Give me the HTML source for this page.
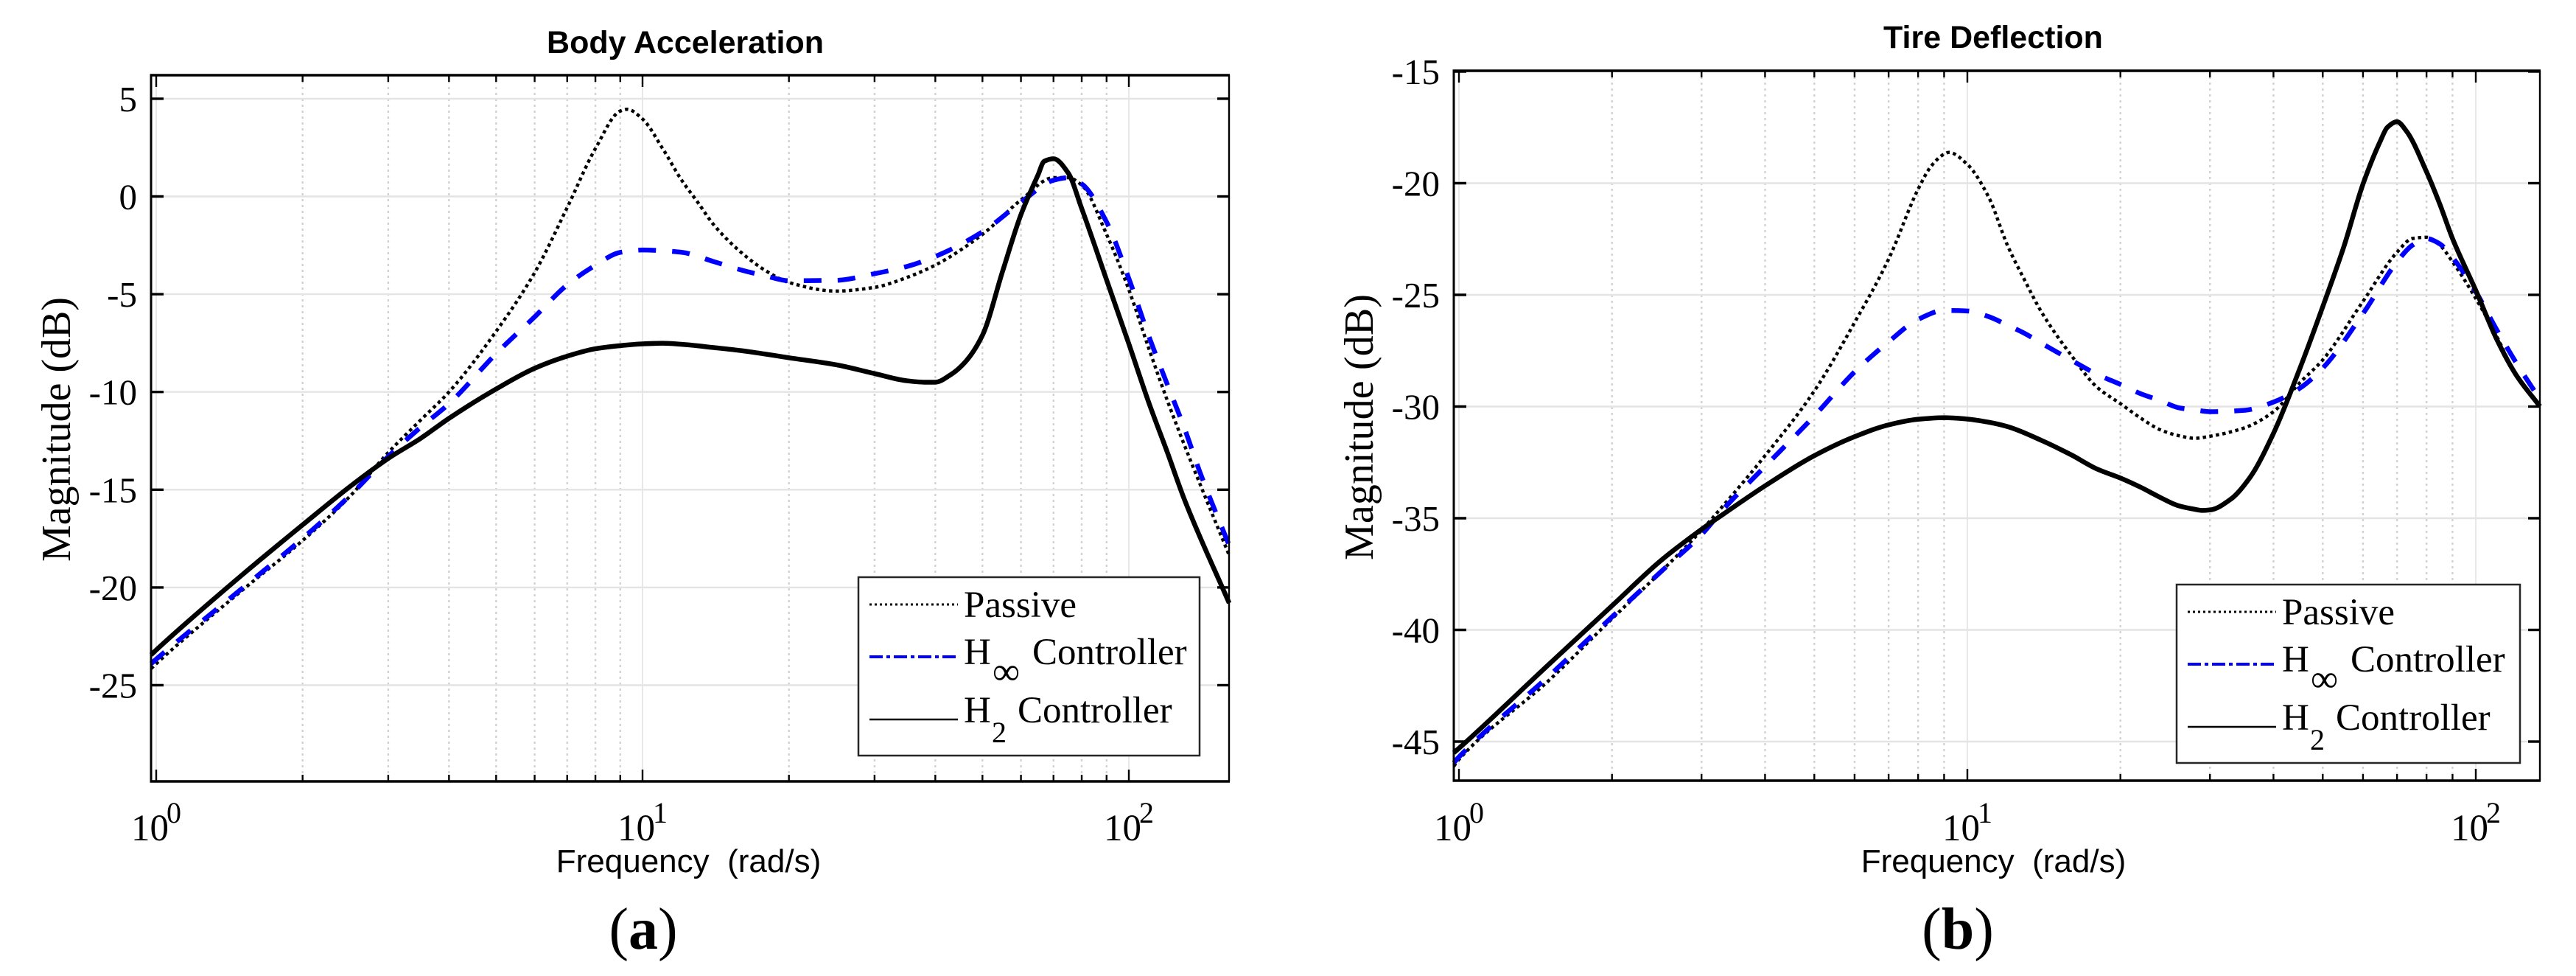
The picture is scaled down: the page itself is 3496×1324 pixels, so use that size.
<!DOCTYPE html>
<html lang="en">
<head>
<meta charset="utf-8">
<title>Body Acceleration and Tire Deflection Frequency Response</title>
<style>
html,body{margin:0;padding:0;background:#fff;width:3496px;height:1324px;overflow:hidden}
svg{display:block}
.serif{font-family:"Liberation Serif",serif;fill:#000}
.sans{font-family:"Liberation Sans",sans-serif;fill:#000}
</style>
</head>
<body>
<svg id="figure" xmlns="http://www.w3.org/2000/svg" width="3496" height="1324" viewBox="0 0 3496 1324">
  <rect x="0" y="0" width="3496" height="1324" fill="#fff"/>

  <g id="plotA"></g>
  <g id="plotB"></g>

  <text class="sans" x="930" y="72" font-size="43" font-weight="700" text-anchor="middle">Body Acceleration</text>
  <text class="sans" x="2705" y="65" font-size="43" font-weight="700" text-anchor="middle">Tire Deflection</text>

  <text class="serif" transform="translate(95,582.5) rotate(-90)" font-size="56" text-anchor="middle" textLength="359" lengthAdjust="spacing">Magnitude (dB)</text>
  <text class="serif" transform="translate(1863,579.5) rotate(-90)" font-size="56" text-anchor="middle" textLength="361" lengthAdjust="spacing">Magnitude (dB)</text>

  <text class="sans" x="934.5" y="1183" font-size="44" text-anchor="middle">Frequency&#160;&#160;(rad/s)</text>
  <text class="sans" x="2705.5" y="1183" font-size="44" text-anchor="middle">Frequency&#160;&#160;(rad/s)</text>

  <text class="serif" x="873" y="1287" font-size="80" text-anchor="middle">(<tspan font-weight="700">a</tspan>)</text>
  <text class="serif" x="2657" y="1287" font-size="80" text-anchor="middle">(<tspan font-weight="700">b</tspan>)</text>

  <g>
    <rect x="1165" y="783" width="463" height="242" fill="#fff" stroke="#262626" stroke-width="2.5"/>
    <line x1="1180" y1="820" x2="1300" y2="820" stroke="#000" stroke-width="3" stroke-dasharray="3 4"/>
    <text class="serif" x="1308" y="837" font-size="51">Passive</text>
    <line x1="1180" y1="891" x2="1300" y2="891" stroke="#0000ff" stroke-width="4" stroke-dasharray="18 5 5 5"/>
    <text class="serif" x="1308" y="901" font-size="51">H</text>
    <text class="serif" x="1347" y="928" font-size="52">∞</text>
    <text class="serif" x="1401" y="901" font-size="51">Controller</text>
    <line x1="1180" y1="976" x2="1300" y2="976" stroke="#000" stroke-width="2.5"/>
    <text class="serif" x="1308" y="980" font-size="51">H</text>
    <text class="serif" x="1346" y="1007" font-size="40">2</text>
    <text class="serif" x="1381" y="980" font-size="51">Controller</text>
  </g>

  <g>
    <rect x="2954" y="793" width="466" height="242" fill="#fff" stroke="#262626" stroke-width="2.5"/>
    <line x1="2969" y1="830" x2="3089" y2="830" stroke="#000" stroke-width="3" stroke-dasharray="3 4"/>
    <text class="serif" x="3097" y="847" font-size="51">Passive</text>
    <line x1="2969" y1="901" x2="3089" y2="901" stroke="#0000ff" stroke-width="4" stroke-dasharray="18 5 5 5"/>
    <text class="serif" x="3097" y="911" font-size="51">H</text>
    <text class="serif" x="3136" y="938" font-size="52">∞</text>
    <text class="serif" x="3190" y="911" font-size="51">Controller</text>
    <line x1="2969" y1="986" x2="3089" y2="986" stroke="#000" stroke-width="2.5"/>
    <text class="serif" x="3097" y="990" font-size="51">H</text>
    <text class="serif" x="3135" y="1017" font-size="40">2</text>
    <text class="serif" x="3170" y="990" font-size="51">Controller</text>
  </g>
</svg>

<script>
var xMajorTicks = [1, 10, 100];
var xExponents = ["0", "1", "2"];
var minorDecades = [1, 10];
var minorMultipliers = [2, 3, 4, 5, 6, 7, 8, 9];

var aYTicks = [5, 0, -5, -10, -15, -20, -25];
var bYTicks = [-15, -20, -25, -30, -35, -40, -45];

var aPassiveFreq = [0.976,1,1.5,2,2.5,3,3.5,4,5,6,7,8,9,9.3,10,11,12,13,14,16,18,20,25,30,35,40,50,60,70,75,80,90,100,110,120,130,140,160.8];
var aPassive = [-24.15,-23.9,-20.16,-17.6,-15.35,-13.1,-11.43,-10,-6.9,-3.9,-0.57,2.45,4.37,4.46,3.96,2.45,0.88,-0.31,-1.44,-2.89,-3.83,-4.4,-4.84,-4.65,-4.14,-3.51,-1.94,-0.18,0.96,0.96,0.58,-1.94,-4.77,-7.8,-10.44,-12.7,-14.7,-18.35];

var aHinfFreq = [0.976,1,1.5,2,2.5,3,3.5,4,5,6,7,8,9,10,12,14,16,18,20,25,30,35,40,50,60,70,75,80,90,100,110,120,130,140,160.8];
var aHinf = [-23.9,-23.67,-20.06,-17.49,-15.31,-13.3,-11.8,-10.6,-8.04,-6.16,-4.52,-3.52,-2.86,-2.74,-2.85,-3.33,-3.77,-4.08,-4.31,-4.29,-3.95,-3.58,-3.07,-1.81,-0.3,0.83,0.96,0.64,-1.31,-4.2,-7.17,-9.62,-11.83,-14.1,-17.85];

var aH2Freq = [0.976,1,1.5,2,2.5,3,3.5,4,5,6,7,8,9,10,11,12,14,16,20,25,30,35,38,40,43,46,50,55,60,65,67,70,75,80,90,100,110,120,130,160.8];
var aH2 = [-23.45,-23.2,-19.37,-16.8,-14.85,-13.4,-12.37,-11.35,-9.85,-8.79,-8.17,-7.79,-7.63,-7.54,-7.51,-7.56,-7.73,-7.89,-8.25,-8.61,-9.06,-9.43,-9.5,-9.5,-9.12,-8.49,-7.1,-3.83,-0.93,1.08,1.8,1.93,1.21,-0.62,-4.27,-7.54,-10.57,-13.09,-15.48,-20.8];

var bPassiveFreq = [0.977,1,1.5,2,2.5,3,3.32,4,5,6,7,8,8.5,9,9.2,10,11,12,13,14,16,18,20,22,24,26,28,30,35,40,45,50,60,70,75,80,85,90,100,110,120,133.7];
var bPassive = [-46.1,-45.8,-42.28,-39.5,-37.38,-35.54,-34.4,-32.2,-29.3,-26.24,-23.4,-20.27,-19.22,-18.7,-18.62,-19.16,-20.6,-22.8,-24.4,-25.78,-27.7,-29.14,-29.87,-30.54,-31.05,-31.3,-31.42,-31.33,-30.96,-30.23,-28.95,-27.91,-25.29,-23.09,-22.48,-22.42,-22.78,-23.52,-25.16,-26.87,-28.6,-29.99];

var bHinfFreq = [0.977,1,1.5,2,2.5,3,3.32,4,5,6,7,8,9,10,11,12,13,14,16,18,20,22,24,26,28,30,35,40,45,50,60,70,75,80,85,90,100,110,120,133.7];
var bHinf = [-45.95,-45.69,-42.08,-39.42,-37.38,-35.73,-34.57,-32.68,-30.42,-28.45,-27.1,-26.1,-25.7,-25.72,-25.97,-26.36,-26.74,-27.17,-27.92,-28.56,-29.01,-29.44,-29.74,-30.05,-30.15,-30.23,-30.17,-29.8,-29.19,-28.28,-25.84,-23.52,-22.78,-22.48,-22.72,-23.33,-24.86,-26.57,-28.03,-29.68];

var bH2Freq = [0.977,1,1.5,2,2.5,3,3.32,4,5,6,7,8,9,10,11,12,14,16,18,20,22,24,26,28,29,30,33,36,40,45,50,55,60,65,67,70,73,80,85,90,100,110,120,133.7];
var bH2 = [-45.5,-45.3,-41.56,-38.92,-36.88,-35.5,-34.8,-33.55,-32.2,-31.35,-30.82,-30.57,-30.5,-30.56,-30.7,-30.9,-31.52,-32.16,-32.8,-33.2,-33.63,-34.08,-34.44,-34.6,-34.65,-34.63,-34.14,-33.16,-31.2,-28.34,-25.53,-22.85,-20.04,-18.08,-17.5,-17.25,-17.66,-19.49,-20.95,-22.48,-24.8,-27,-28.58,-29.99];

var NS = "http://www.w3.org/2000/svg";

function makeLine(parent, x1, y1, x2, y2, stroke, width, dash) {
  var l = document.createElementNS(NS, "line");
  l.setAttribute("x1", x1);
  l.setAttribute("y1", y1);
  l.setAttribute("x2", x2);
  l.setAttribute("y2", y2);
  l.setAttribute("stroke", stroke);
  l.setAttribute("stroke-width", width);
  if (dash) l.setAttribute("stroke-dasharray", dash);
  parent.appendChild(l);
  return l;
}

function makeText(parent, x, y, size, anchor, content) {
  var t = document.createElementNS(NS, "text");
  t.setAttribute("class", "serif");
  t.setAttribute("x", x);
  t.setAttribute("y", y);
  t.setAttribute("font-size", size);
  t.setAttribute("text-anchor", anchor);
  t.textContent = content;
  parent.appendChild(t);
  return t;
}

/* Monotone cubic path through the plotted readings */
function monotonePath(xs, ys) {
  var n = xs.length, i, h = [], s = [], m = [];
  for (i = 0; i < n - 1; i++) {
    h[i] = xs[i + 1] - xs[i];
    s[i] = (ys[i + 1] - ys[i]) / h[i];
  }
  m[0] = s[0];
  m[n - 1] = s[n - 2];
  for (i = 1; i < n - 1; i++) {
    if (s[i - 1] * s[i] <= 0) {
      m[i] = 0;
    } else {
      var w1 = 2 * h[i] + h[i - 1], w2 = h[i] + 2 * h[i - 1];
      m[i] = (w1 + w2) / (w1 / s[i - 1] + w2 / s[i]);
    }
  }
  var d = "M" + xs[0].toFixed(2) + " " + ys[0].toFixed(2);
  for (i = 0; i < n - 1; i++) {
    d += " C" + (xs[i] + h[i] / 3).toFixed(2) + " " + (ys[i] + m[i] * h[i] / 3).toFixed(2) +
         " " + (xs[i + 1] - h[i] / 3).toFixed(2) + " " + (ys[i + 1] - m[i + 1] * h[i] / 3).toFixed(2) +
         " " + xs[i + 1].toFixed(2) + " " + ys[i + 1].toFixed(2);
  }
  return d;
}

function drawSeries(parent, sx, sy, freq, values, stroke, width, dash, name) {
  var p = document.createElementNS(NS, "path");
  var px = [], py = [];
  for (var i = 0; i < freq.length; i++) {
    px.push(sx(freq[i]));
    py.push(sy(values[i]));
  }
  p.setAttribute("d", monotonePath(px, py));
  p.setAttribute("fill", "none");
  p.setAttribute("stroke", stroke);
  p.setAttribute("stroke-width", width);
  p.setAttribute("stroke-linejoin", "round");
  if (dash) p.setAttribute("stroke-dasharray", dash);
  
  
  parent.appendChild(p);
}

function drawAxes(g, box, sx, sy, yTicks) {
  var i, j, x, y, el;
  for (i = 0; i < minorDecades.length; i++) {
    for (j = 0; j < minorMultipliers.length; j++) {
      x = sx(minorDecades[i] * minorMultipliers[j]);
      el = makeLine(g, x, box.top, x, box.bottom, "#d2d2d2", 2.4, "3 5");
      
      
    }
  }
  for (i = 0; i < xMajorTicks.length; i++) {
    x = sx(xMajorTicks[i]);
    el = makeLine(g, x, box.top, x, box.bottom, "#e2e2e2", 1.6);
    
    
  }
  for (i = 0; i < yTicks.length; i++) {
    y = sy(yTicks[i]);
    el = makeLine(g, box.left, y, box.right, y, "#e4e4e4", 2.4);
    
    
  }
  for (i = 0; i < minorDecades.length; i++) {
    for (j = 0; j < minorMultipliers.length; j++) {
      x = sx(minorDecades[i] * minorMultipliers[j]);
      el = makeLine(g, x, box.bottom, x, box.bottom - 9, "#000", 2.4);
      
      
      el = makeLine(g, x, box.top, x, box.top + 9, "#000", 2.4);
      
      
    }
  }
  for (i = 0; i < xMajorTicks.length; i++) {
    x = sx(xMajorTicks[i]);
    el = makeLine(g, x, box.bottom, x, box.bottom - 16, "#000", 2.4);
    
    
    el = makeLine(g, x, box.top, x, box.top + 16, "#000", 2.4);
    
    
    el = makeText(g, x - 34, 1140, 51, "start", "10");
    
    
    el = makeText(g, x + 14, 1116, 40, "start", xExponents[i]);
    
    
  }
  for (i = 0; i < yTicks.length; i++) {
    y = sy(yTicks[i]);
    el = makeLine(g, box.left, y, box.left + 17, y, "#000", 3.4);
    
    
    el = makeLine(g, box.right, y, box.right - 16, y, "#000", 3.4);
    
    
    el = makeText(g, box.left - 19, y + 17, 49, "end", String(yTicks[i]));
    
    
  }
}

function drawFrame(g, box) {
  var el;
  el = makeLine(g, box.left - 1.5, box.top, box.right + 1, box.top, "#000", 3.6);
  
  
  el = makeLine(g, box.left - 1.5, box.bottom, box.right + 1, box.bottom, "#000", 3.6);
  
  
  el = makeLine(g, box.left, box.top, box.left, box.bottom, "#000", 3);
  
  
  el = makeLine(g, box.right, box.top, box.right, box.bottom, "#000", 2.4);
  
  
}

function logScale(x0, decadePx) {
  return function (w) { return x0 + Math.log10(w) * decadePx; };
}
function linScale(yAtRef, ref, pxPerDb) {
  return function (v) { return yAtRef + (ref - v) * pxPerDb; };
}

var gA = document.getElementById("plotA");
var boxA = { left: 205, right: 1668, top: 102, bottom: 1060 };
var sxA = logScale(212, 660);
var syA = linScale(266.5, 0, 26.52);
drawAxes(gA, boxA, sxA, syA, aYTicks);
drawSeries(gA, sxA, syA, aPassiveFreq, aPassive, "#000", 4.5, "4.5 4.5", "series-passive-a");
drawSeries(gA, sxA, syA, aHinfFreq, aHinf, "#0000ff", 6.5, "24 22", "series-h-infinity-a");
drawSeries(gA, sxA, syA, aH2Freq, aH2, "#000", 6.5, null, "series-h2-a");
drawFrame(gA, boxA);

var gB = document.getElementById("plotB");
var boxB = { left: 1973, right: 3447, top: 96, bottom: 1059 };
var sxB = logScale(1980, 690);
var syB = linScale(97, -15, 30.3);
drawAxes(gB, boxB, sxB, syB, bYTicks);
drawSeries(gB, sxB, syB, bPassiveFreq, bPassive, "#000", 4.5, "4.5 4.5", "series-passive-b");
drawSeries(gB, sxB, syB, bHinfFreq, bHinf, "#0000ff", 6.5, "24 22", "series-h-infinity-b");
drawSeries(gB, sxB, syB, bH2Freq, bH2, "#000", 6.5, null, "series-h2-b");
drawFrame(gB, boxB);
</script>
</body>
</html>
